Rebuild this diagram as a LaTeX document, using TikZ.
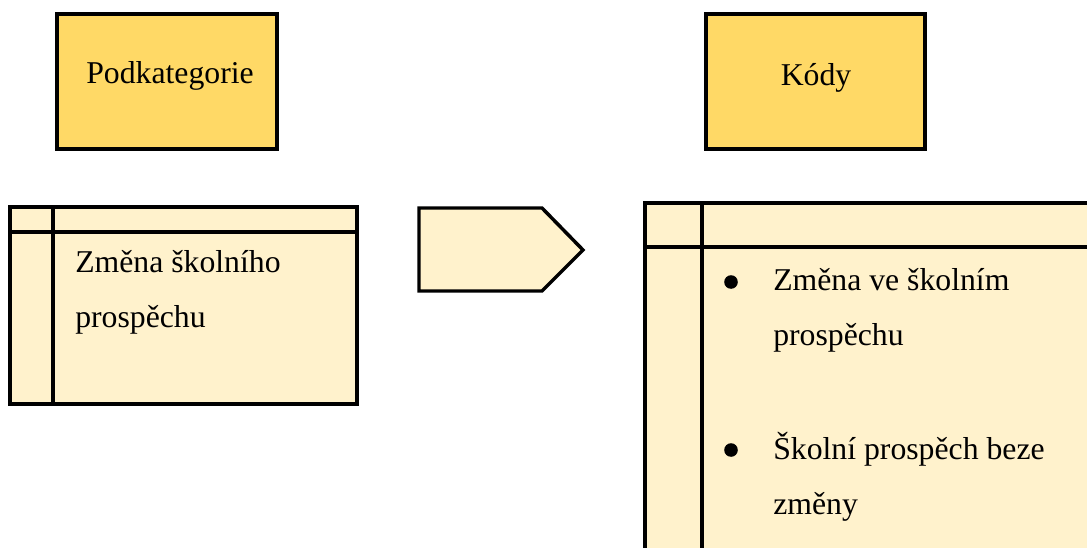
\documentclass[tikz,border=0pt]{standalone}
\usepackage{fontspec}
\setmainfont{Liberation Serif}
\definecolor{gold}{HTML}{FFD966}
\definecolor{cream}{HTML}{FFF2CC}
\begin{document}
\begin{tikzpicture}[%
            x=0.75pt, y=-0.75pt,
            catbox/.style={draw=black, line width=2.6pt, fill=gold},
            tablebox/.style={draw=black, line width=2.6pt, fill=cream},
            rule/.style={draw=black, line width=2.6pt},
            txt/.style={anchor=base west, inner sep=0pt, font=\fontsize{23.8}{28}\selectfont},
            headtxt/.style={anchor=base, inner sep=0pt, font=\fontsize{23.8}{28}\selectfont},
            mybullet/.style={shape=circle, inner sep=3.6pt, color=black, fill}
        ]
        \useasboundingbox (0,0) rectangle (1087,547);
        \clip (0,0) rectangle (1087,547);

        % headings
        \draw [catbox] (57,14) rectangle (277,149);
        \draw [catbox] (706,14) rectangle (925,149);
        \node [headtxt] (sub) at (170,83) {Podkategorie};
        \node [headtxt] (codes) at (816,85) {Kódy};

        % left table
        \begin{scope}
            \coordinate (L1) at (10,207);
            \coordinate (L2) at (357,404);
            \draw [tablebox] (L1) rectangle (L2);
            \draw [rule] (10,232) -- (357,232) (53,207) -- (53,404);
            \node [txt] (sub1) at (75,272) {Změna školního};
            \node [txt] (sub2) at (75,327) {prospěchu};
        \end{scope}

        % arrow
        \draw [tablebox, line join=miter]
              (419,208) -- (542,208) -- (583,250) -- (542,291) -- (419,291) -- cycle;

        % right table
        \begin{scope}
            \coordinate (R1) at (645,203);
            \coordinate (R2) at (1100,560);
            \draw [tablebox] (R1) rectangle (R2);
            \draw [rule] (645,247) -- (1100,247) (702,203) -- (702,560);
            \path (731,282) node [mybullet] (b1) {}
                  (731,450) node [mybullet] (b2) {};
            \node [txt] (code1) at (773,290) {Změna ve školním};
            \node [txt] (code2) at (773,345) {prospěchu};
            \node [txt] (code3) at (773,459) {Školní prospěch beze};
            \node [txt] (code4) at (773,514) {změny};
        \end{scope}
    \end{tikzpicture}
\end{document}
